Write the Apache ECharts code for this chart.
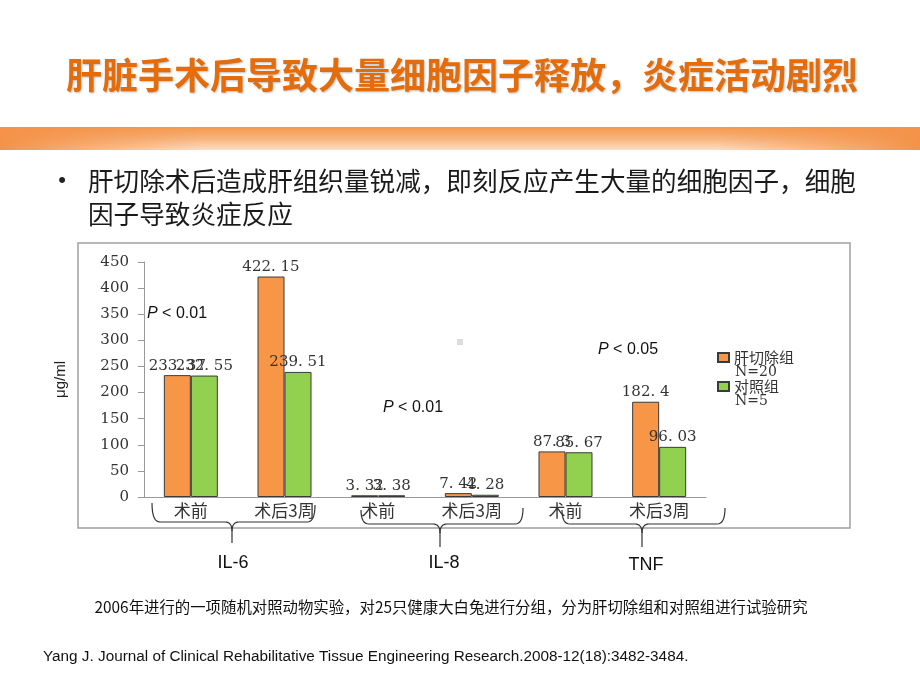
<!DOCTYPE html>
<html>
<head>
<meta charset="utf-8">
<script src="https://cdn.jsdelivr.net/npm/echarts@6/dist/echarts.min.js"></script>
<style>
html,body{margin:0;padding:0;background:#fff;}
#main{width:920px;height:690px;}
</style>
</head>
<body>
<div id="main"></div>
<script>
// ---- data ----
const categories = ['术前', '术后3周', '术前', '术后3周', '术前', '术后3周'];
const seriesNames = ['肝切除组', '对照组'];
const seriesN = ['N=20', 'N=5'];
const hepatectomy = [233.37, 422.15, 3.32, 7.42, 87.3, 182.4];
const control = [232.55, 239.51, 3.38, 4.28, 85.67, 96.03];
const groupLabels = ['IL-6', 'IL-8', 'TNF'];
const pLabels = ['< 0.01', '< 0.01', '< 0.05'];
const yMin = 0, yMax = 450, yStep = 50;
const yName = 'μg/ml';
const titleText = '肝脏手术后导致大量细胞因子释放，炎症活动剧烈';
const bullet1 = '肝切除术后造成肝组织量锐减，即刻反应产生大量的细胞因子，细胞';
const bullet2 = '因子导致炎症反应';
const footnote = '2006年进行的一项随机对照动物实验，对25只健康大白兔进行分组，分为肝切除组和对照组进行试验研究';
const citation = 'Yang J. Journal of Clinical Rehabilitative Tissue Engineering Research.2008-12(18):3482-3484.';

const ORANGE = '#F79646', GREEN = '#92D050';
const CJK = '"Noto Sans CJK SC", sans-serif';
const SERIF = '"DejaVu Serif", "Liberation Serif", serif';
const ARIAL = '"Liberation Sans", Arial, sans-serif';
const NARROW = '"Liberation Sans Narrow", "Liberation Sans", sans-serif';

const chart = echarts.init(document.getElementById('main'), null, {renderer: 'canvas'});

function quad(p0, p1, p2, n) {
  const pts = [];
  for (let i = 0; i <= n; i++) {
    const t = i / n, u = 1 - t;
    pts.push([u * u * p0[0] + 2 * u * t * p1[0] + t * t * p2[0], u * u * p0[1] + 2 * u * t * p1[1] + t * t * p2[1]]);
  }
  return pts;
}
function braceEls(x1, x2, xc, yTop1, yTop2, yH, yPt) {
  const st = {fill: 'none', stroke: '#333', lineWidth: 1.2};
  const left = [].concat(
    quad([x1, yTop1], [x1, yH], [x1 + 8, yH], 8),
    quad([xc - 7, yH], [xc, yH], [xc, yH + 9], 8),
    [[xc, yPt]]
  );
  const right = [].concat(
    quad([x2, yTop2], [x2, yH], [x2 - 8, yH], 8),
    quad([xc + 7, yH], [xc, yH], [xc, yH + 9], 8)
  );
  return [
    {type: 'polyline', shape: {points: left}, style: st},
    {type: 'polyline', shape: {points: right}, style: st}
  ];
}

const labelFmt = p => String(p.value).replace('.', '. ');

const option = {
  backgroundColor: '#ffffff',
  animation: false,
  grid: {left: 144, right: 214, top: 262, bottom: 193, containLabel: false},
  legend: {
    orient: 'vertical',
    left: 717, top: 350, padding: 0,
    itemWidth: 11, itemHeight: 9, itemGap: 14,
    icon: 'rect',
    textStyle: {fontFamily: CJK, fontSize: 15, color: '#333'},
    data: seriesNames
  },
  xAxis: {
    type: 'category',
    data: categories,
    axisLine: {lineStyle: {color: '#999', width: 1}},
    axisTick: {inside: true, length: 4, lineStyle: {color: '#999'}},
    axisLabel: {fontFamily: CJK, fontSize: 17, color: '#333', margin: 5, interval: 0}
  },
  yAxis: {
    type: 'value',
    min: yMin, max: yMax, interval: yStep,
    name: yName,
    nameLocation: 'middle',
    nameGap: 76,
    nameRotate: 90,
    nameTextStyle: {fontFamily: ARIAL, fontSize: 15, color: '#222'},
    splitLine: {show: false},
    axisLine: {show: true, lineStyle: {color: '#999', width: 1}},
    axisTick: {show: true, length: 6, lineStyle: {color: '#999'}},
    axisLabel: {fontFamily: SERIF, fontSize: 15, color: '#333', margin: 15}
  },
  series: [
    {
      name: seriesNames[0], type: 'bar', data: hepatectomy,
      barWidth: 27, barGap: '0%',
      itemStyle: {color: ORANGE, borderColor: '#3a3a3a', borderWidth: 1},
      label: {show: true, position: 'top', distance: 2, fontFamily: SERIF, fontSize: 15, color: '#333', formatter: labelFmt}
    },
    {
      name: seriesNames[1], type: 'bar', data: control,
      barWidth: 27,
      itemStyle: {color: GREEN, borderColor: '#3a3a3a', borderWidth: 1},
      label: {show: true, position: 'top', distance: 2, fontFamily: SERIF, fontSize: 15, color: '#333', formatter: labelFmt}
    }
  ],
  graphic: [].concat([
    // orange band
    {type: 'rect', x: 0, y: 127, z: 1, shape: {x: 0, y: 0, width: 920, height: 23},
      style: {fill: {type: 'linear', x: 0, y: 0, x2: 0, y2: 1, colorStops: [
        {offset: 0, color: '#F4994F'}, {offset: 0.5, color: '#F7B47C'}, {offset: 1, color: '#FCDDC4'}]}}},
    {type: 'rect', x: 0, y: 127, z: 2, shape: {x: 0, y: 0, width: 920, height: 23},
      style: {fill: {type: 'linear', x: 0, y: 0, x2: 1, y2: 0, colorStops: [
        {offset: 0, color: 'rgba(244,146,72,1)'}, {offset: 0.22, color: 'rgba(244,146,72,0)'},
        {offset: 0.78, color: 'rgba(244,146,72,0)'}, {offset: 1, color: 'rgba(244,146,72,1)'}]}}},
    // title
    {type: 'text', x: 462, y: 75, z: 5,
      style: {text: titleText, fontFamily: CJK, fontSize: 36, fontWeight: 'bold', fill: '#E46C0A', align: 'center', verticalAlign: 'middle',
        textShadowColor: 'rgba(0,0,0,0.25)', textShadowOffsetX: 1, textShadowOffsetY: 1, textShadowBlur: 2}},
    // bullet text
    {type: 'text', x: 62, y: 181, style: {text: '•', fontFamily: ARIAL, fontSize: 22, fill: '#222', align: 'center', verticalAlign: 'middle'}},
    {type: 'text', x: 88, y: 181, style: {text: bullet1, fontFamily: CJK, fontSize: 25.6, fill: '#1a1a1a', verticalAlign: 'middle'}},
    {type: 'text', x: 88, y: 214, style: {text: bullet2, fontFamily: CJK, fontSize: 25.6, fill: '#1a1a1a', verticalAlign: 'middle'}},
    // frame
    {type: 'rect', x: 78, y: 243, z: 0, shape: {x: 0, y: 0, width: 772, height: 285},
      style: {fill: 'none', stroke: '#a0a0a0', lineWidth: 1.5}},
    {type: 'rect', x: 457, y: 339, shape: {x: 0, y: 0, width: 6, height: 6}, style: {fill: '#dcdcdc'}},
    // legend sub-lines
    {type: 'text', x: 735, y: 372, style: {text: seriesN[0], fontFamily: SERIF, fontSize: 14, fill: '#333', verticalAlign: 'middle'}},
    {type: 'text', x: 735, y: 401, style: {text: seriesN[1], fontFamily: SERIF, fontSize: 14, fill: '#333', verticalAlign: 'middle'}},
    // P labels
    {type: 'text', x: 147, y: 314, style: {text: '{i|P} ' + pLabels[0], fontFamily: ARIAL, fontSize: 16, fill: '#111', verticalAlign: 'middle',
      rich: {i: {fontStyle: 'italic', fontFamily: ARIAL, fontSize: 16, fill: '#111'}}}},
    {type: 'text', x: 383, y: 408, style: {text: '{i|P} ' + pLabels[1], fontFamily: ARIAL, fontSize: 16, fill: '#111', verticalAlign: 'middle',
      rich: {i: {fontStyle: 'italic', fontFamily: ARIAL, fontSize: 16, fill: '#111'}}}},
    {type: 'text', x: 598, y: 350, style: {text: '{i|P} ' + pLabels[2], fontFamily: ARIAL, fontSize: 16, fill: '#111', verticalAlign: 'middle',
      rich: {i: {fontStyle: 'italic', fontFamily: ARIAL, fontSize: 16, fill: '#111'}}}},
    // group labels
    {type: 'text', x: 233, y: 563, style: {text: groupLabels[0], fontFamily: NARROW, fontSize: 18, fill: '#111', align: 'center', verticalAlign: 'middle'}},
    {type: 'text', x: 444, y: 563, style: {text: groupLabels[1], fontFamily: NARROW, fontSize: 18, fill: '#111', align: 'center', verticalAlign: 'middle'}},
    {type: 'text', x: 646, y: 565, style: {text: groupLabels[2], fontFamily: NARROW, fontSize: 18, fill: '#111', align: 'center', verticalAlign: 'middle'}},
    // footnotes
    {type: 'text', x: 451, y: 607, style: {text: footnote, fontFamily: CJK, fontSize: 15.4, fill: '#111', align: 'center', verticalAlign: 'middle'}},
    {type: 'text', x: 43, y: 657, style: {text: citation, fontFamily: ARIAL, fontSize: 15.3, fill: '#111', align: 'left', verticalAlign: 'middle'}}
  ],
    braceEls(152, 315, 232, 503, 505, 522, 543),
    braceEls(361, 523, 440, 510, 508, 524, 547),
    braceEls(562, 725, 642, 510, 508, 524, 547)
  )
};
chart.setOption(option);
</script>
</body>
</html>
